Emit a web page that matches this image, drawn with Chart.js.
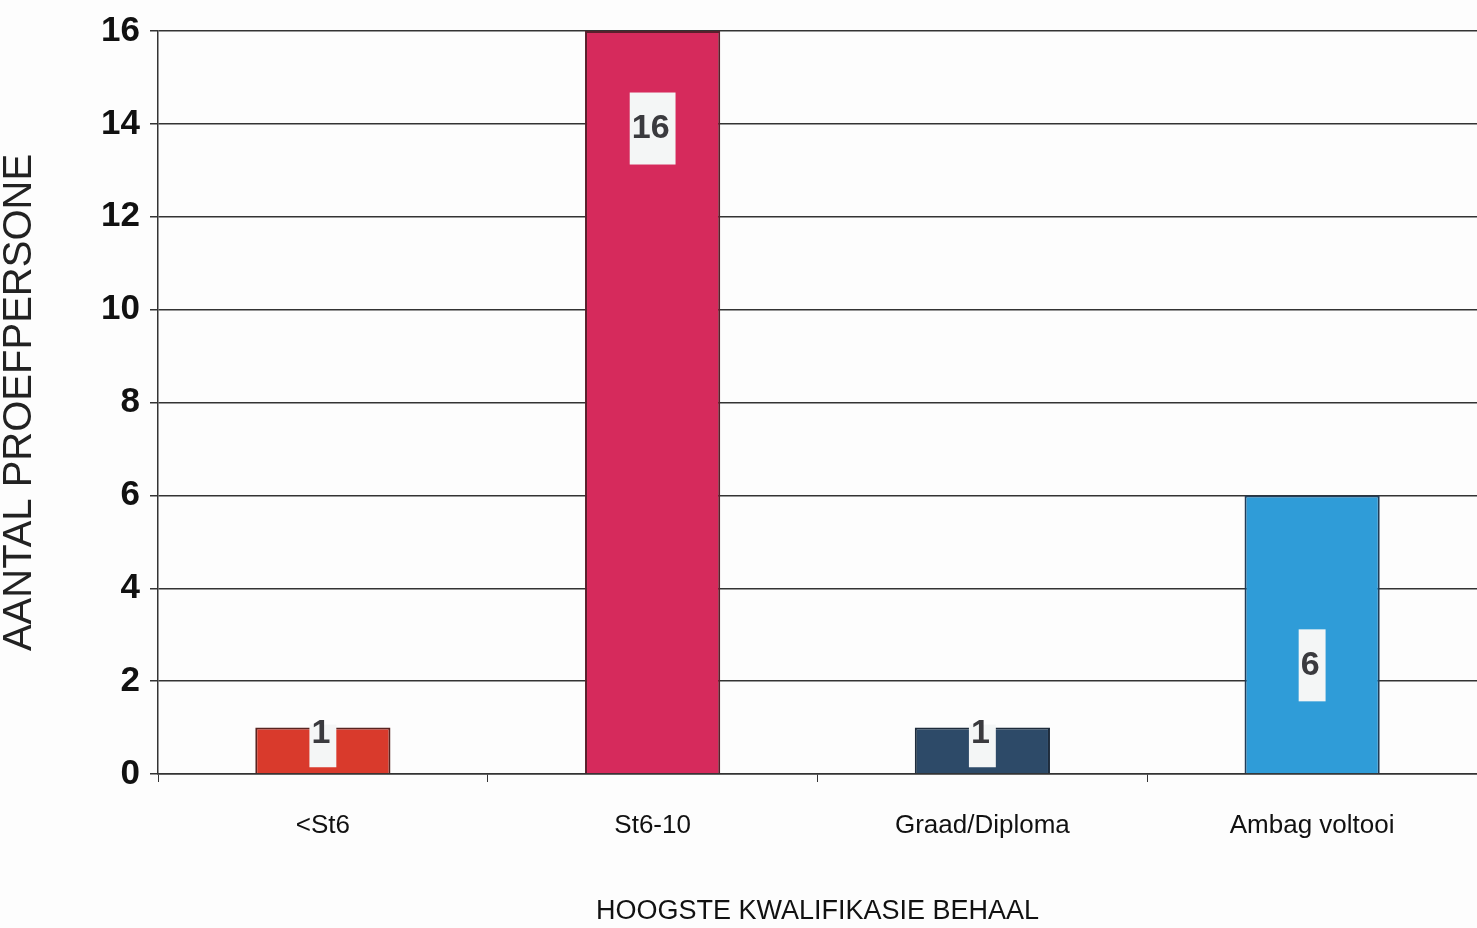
<!DOCTYPE html>
<html>
<head>
<meta charset="utf-8">
<script src="https://cdn.jsdelivr.net/npm/chart.js@4.4.0/dist/chart.umd.min.js"></script>
<style>
  html, body { margin: 0; padding: 0; background: #fdfdfd; }
  #wrap { width: 1477px; height: 928px; }
</style>
</head>
<body>
<div id="wrap"><canvas id="grafiek"></canvas></div>
<script>
// kategorieë en waardes
const kategoriee = ['<St6', 'St6-10', 'Graad/Diploma', 'Ambag voltooi'];
const aantal = [1, 16, 1, 6];
const kleure = ['#d93a2c', '#d62a5c', '#2d4a68', '#2f9cd8'];
const randKleure = ['#5a2420', '#5a1f2c', '#1e2c3c', '#1f3c58'];
// waar die etiket sit (in y-eenhede)
const etiketHoogte = [0.88, 13.9, 0.88, 2.34];

const etiketPlugin = {
    id: 'etikette',
    afterDatasetsDraw(chart) {
        const ctx = chart.ctx;
        const meta = chart.getDatasetMeta(0);
        const y = chart.scales.y;
        ctx.save();
        ctx.font = 'bold 34px "Liberation Sans", Arial, sans-serif';
        ctx.textAlign = 'center';
        ctx.textBaseline = 'middle';
        meta.data.forEach((bar, i) => {
            const teks = String(aantal[i]);
            const ty = y.getPixelForValue(etiketHoogte[i]);
            const w = ctx.measureText(teks).width + 8;
            let top = ty - 36;
            let bottom = Math.min(ty + 36, bar.base - 6);
            if (aantal[i] < 2) top = bar.y - 3;
            ctx.fillStyle = '#f4f6f6';
            ctx.fillRect(bar.x - w / 2, top, w, bottom - top);
            ctx.fillStyle = '#3a3a3e';
            ctx.fillText(teks, bar.x - 2, ty);
        });
        ctx.restore();
    }
};

const ctx = document.getElementById('grafiek').getContext('2d');
new Chart(ctx, {
    type: 'bar',
    data: {
        labels: kategoriee,
        datasets: [{
            data: aantal,
            backgroundColor: kleure,
            borderColor: randKleure,
            borderWidth: 2,
            barPercentage: 0.41,
            categoryPercentage: 1.0
        }]
    },
    options: {
        responsive: true,
        maintainAspectRatio: false,
        animation: false,
        layout: { padding: { top: 30, right: 0, bottom: 0, left: 0 } },
        plugins: {
            legend: { display: false },
            tooltip: { enabled: false }
        },
        scales: {
            x: {
                afterFit(scale) { scale.height = 154; },
                grid: {
                    offset: true,
                    drawOnChartArea: false,
                    drawTicks: true,
                    tickLength: 8,
                    color: '#333'
                },
                border: { display: true, color: '#333', width: 1.5 },
                ticks: {
                    color: '#111',
                    padding: 28,
                    font: { family: '"Liberation Sans", Arial, sans-serif', size: 26 }
                },
                title: {
                    display: true,
                    text: 'HOOGSTE KWALIFIKASIE BEHAAL',
                    color: '#111',
                    padding: { top: 0, bottom: 0 },
                    font: { family: '"Liberation Sans", Arial, sans-serif', size: 27 }
                }
            },
            y: {
                min: 0,
                max: 16,
                afterFit(scale) { scale.width = 158; },
                grid: {
                    color: '#333',
                    lineWidth: 1.5,
                    tickLength: 8
                },
                border: { display: true, color: '#333', width: 1.5 },
                ticks: {
                    stepSize: 2,
                    color: '#111',
                    padding: 10,
                    font: { family: '"Liberation Sans", Arial, sans-serif', size: 35, weight: 'bold' }
                },
                title: {
                    display: true,
                    text: 'AANTAL PROEFPERSONE',
                    color: '#222',
                    padding: { top: 0, bottom: 0 },
                    font: { family: '"Liberation Sans", Arial, sans-serif', size: 40, lineHeight: 1 }
                }
            }
        }
    },
    plugins: [etiketPlugin]
});
</script>
</body>
</html>
